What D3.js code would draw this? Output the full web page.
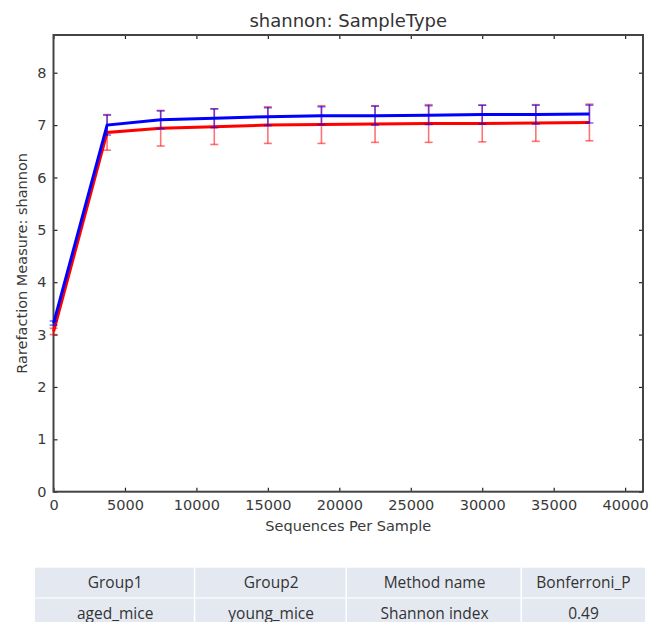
<!DOCTYPE html>
<html>
<head>
<meta charset="utf-8">
<script src="https://cdn.jsdelivr.net/npm/d3@7"></script>
<style>
  body { margin: 0; background: #fff; }
  text { font-family: 'DejaVu Sans', sans-serif; }
</style>
</head>
<body>
<svg width="650" height="622"></svg>
<script>
// rarefaction depths
const depths = [10, 3750, 7500, 11250, 15000, 18750, 22500, 26250, 30000, 33750, 37500]

// blue group
const blueMean = [3.22, 7.00, 7.10, 7.13, 7.16, 7.18, 7.18, 7.19, 7.20, 7.20, 7.21]
const blueErr = [0.04, 0.19, 0.17, 0.18, 0.17, 0.17, 0.18, 0.18, 0.18, 0.18, 0.17]

// red group
const redMean = [3.06, 6.86, 6.94, 6.97, 7.00, 7.01, 7.02, 7.03, 7.03, 7.04, 7.05]
const redErr = [0.06, 0.34, 0.34, 0.34, 0.35, 0.36, 0.35, 0.36, 0.35, 0.35, 0.35]

const xTicks = [0, 5000, 10000, 15000, 20000, 25000, 30000, 35000, 40000]
const yTicks = [0, 1, 2, 3, 4, 5, 6, 7, 8]

const tableHeader = ['Group1', 'Group2', 'Method name', 'Bonferroni_P']
const tableRow = ['aged_mice', 'young_mice', 'Shannon index', '0.49']

const margin = { top: 35, right: 7, bottom: 130, left: 53.5 }
const width = 650
const height = 622
const tickLen = 4

const svg = d3.select('svg')

const xScale = d3.scaleLinear()
  .domain([0, 41250])
  .range([margin.left, width - margin.right])

const yScale = d3.scaleLinear()
  .domain([0, 8.72])
  .range([491.7, margin.top])

const axisColor = '#444'
const labelColor = '#3a3a3a'

// axes (ticks inward on all four sides)
const xAxis = d3.axisBottom(xScale).tickValues(xTicks).tickFormat(d3.format('d')).tickSize(-tickLen).tickPadding(8)
const yAxis = d3.axisLeft(yScale).tickValues(yTicks).tickSize(-tickLen).tickPadding(7)

const gx = svg.append('g')
  .attr('transform', `translate(0, ${yScale(0)})`)
  .call(xAxis)
const gy = svg.append('g')
  .attr('transform', `translate(${margin.left}, 0)`)
  .call(yAxis)

const gxTop = svg.append('g')
  .attr('transform', `translate(0, ${margin.top})`)
  .call(d3.axisTop(xScale).tickValues(xTicks).tickSize(-tickLen).tickFormat(''))
const gyRight = svg.append('g')
  .attr('transform', `translate(${width - margin.right}, 0)`)
  .call(d3.axisRight(yScale).tickValues(yTicks).tickSize(-tickLen).tickFormat(''))

;[gx, gy, gxTop, gyRight].forEach(g => {
  g.select('.domain').remove()
  g.selectAll('line').attr('stroke', '#222').attr('stroke-width', 1.2)
  g.selectAll('text')
    .attr('fill', labelColor)
    .style('font-size', '14.5px')
})

// frame
svg.append('rect')
  .attr('x', margin.left)
  .attr('y', margin.top)
  .attr('width', xScale(41250) - margin.left)
  .attr('height', yScale(0) - margin.top)
  .attr('fill', 'none')
  .attr('stroke', axisColor)
  .attr('stroke-width', 2)

// draw one group: error bars then mean line
function drawSeries(means, errs, color) {
  const pts = depths.map((d, i) => ({ x: d, y: means[i], e: errs[i] }))
  const bars = svg.append('g')
    .attr('stroke', color)
    .attr('stroke-opacity', 0.55)
    .attr('stroke-width', 1.6)

  bars.selectAll('line.v')
    .data(pts)
    .enter().append('line')
    .attr('x1', d => xScale(d.x))
    .attr('x2', d => xScale(d.x))
    .attr('y1', d => yScale(d.y - d.e))
    .attr('y2', d => yScale(d.y + d.e))

  ;[-1, 1].forEach(s => {
    bars.selectAll(null)
      .data(pts)
      .enter().append('line')
      .attr('x1', d => xScale(d.x) - 4)
      .attr('x2', d => xScale(d.x) + 4)
      .attr('y1', d => yScale(d.y + s * d.e))
      .attr('y2', d => yScale(d.y + s * d.e))
  })

  const line = d3.line()
    .x(d => xScale(d.x))
    .y(d => yScale(d.y))

  svg.append('path')
    .datum(pts)
    .attr('d', line)
    .attr('fill', 'none')
    .attr('stroke', color)
    .attr('stroke-width', 3)
}

drawSeries(redMean, redErr, '#ff0000')
drawSeries(blueMean, blueErr, '#0000ff')

// titles
svg.append('text')
  .attr('x', (margin.left + width - margin.right) / 2)
  .attr('y', 27)
  .attr('text-anchor', 'middle')
  .attr('fill', '#333')
  .style('font-size', '18px')
  .text('shannon: SampleType')

svg.append('text')
  .attr('x', (margin.left + width - margin.right) / 2)
  .attr('y', 531)
  .attr('text-anchor', 'middle')
  .attr('fill', labelColor)
  .style('font-size', '14.5px')
  .text('Sequences Per Sample')

svg.append('text')
  .attr('transform', `translate(27, ${(margin.top + yScale(0)) / 2}) rotate(-90)`)
  .attr('text-anchor', 'middle')
  .attr('fill', labelColor)
  .style('font-size', '14.5px')
  .text('Rarefaction Measure: shannon')

// stats table
const colEdges = [35, 195.3, 347, 522, 645]
const rowTops = [567.7, 598.5]
const rowH = 29.7

const table = svg.append('g')
;[tableHeader, tableRow].forEach((row, r) => {
  row.forEach((cell, c) => {
    table.append('rect')
      .attr('x', colEdges[c])
      .attr('y', rowTops[r])
      .attr('width', colEdges[c + 1] - colEdges[c] - (c < 3 ? 1.5 : 0))
      .attr('height', rowH)
      .attr('fill', '#e4e9f1')
    table.append('text')
      .attr('x', (colEdges[c] + colEdges[c + 1]) / 2)
      .attr('y', rowTops[r] + rowH / 2 + 5.5)
      .attr('text-anchor', 'middle')
      .attr('fill', '#333')
      .style('font-family', "'Open Sans', sans-serif")
      .style('font-size', '15.5px')
      .text(cell)
  })
})
</script>
</body>
</html>
